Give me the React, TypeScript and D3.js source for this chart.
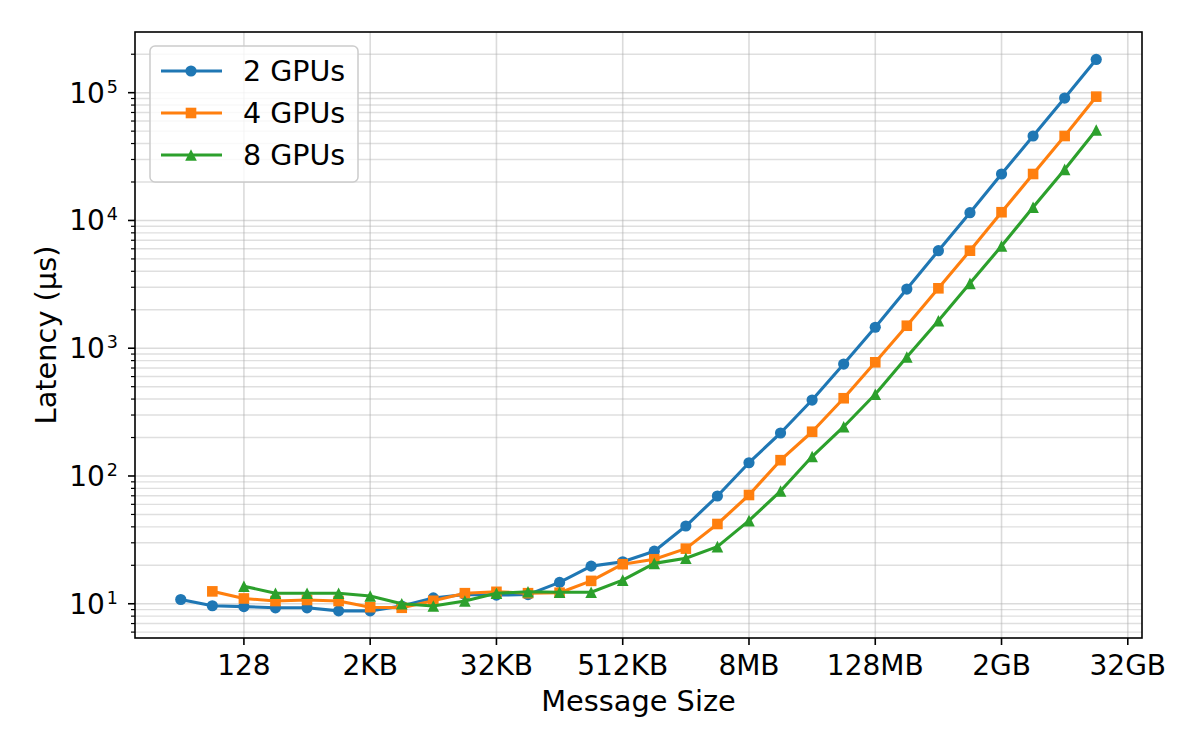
import React from "react";
import * as d3 from "d3";

const messageSizes = [
  32, 64, 128, 256, 512, 1024, 2048, 4096, 8192, 16384, 32768, 65536, 131072, 262144,
  524288, 1048576, 2097152, 4194304, 8388608, 16777216, 33554432, 67108864, 134217728,
  268435456, 536870912, 1073741824, 2147483648, 4294967296, 8589934592, 17179869184,
];

const gpus2 = [
  10.8, 9.65, 9.5, 9.3, 9.3, 8.8, 8.8, 9.6, 11.1, 11.8, 11.7, 11.8, 14.7, 19.7, 21.3,
  25.8, 40.6, 69.7, 127, 217, 393, 752, 1459, 2905, 5800, 11500, 23100, 45800, 90800, 182000,
];
const gpus4 = [
  12.5, 11.0, 10.5, 10.7, 10.5, 9.4, 9.3, 10.55, 12.1, 12.4, 12.1, 12.2, 15.1, 20.4,
  22.3, 27.0, 42.1, 71, 133, 222, 406, 776, 1500, 2944, 5800, 11600, 23100, 45800, 93100,
];
const gpus8 = [
  13.7, 12.1, 12.1, 12.1, 11.5, 10.0, 9.6, 10.5, 12.1, 12.4, 12.3, 12.3, 15.3, 20.7,
  22.7, 28.0, 44.7, 76.2, 142, 243, 436, 853, 1640, 3220, 6310, 12700, 25100, 51000,
];

const seriesNames = ["2 GPUs", "4 GPUs", "8 GPUs"];
const seriesColors = ["#1f77b4", "#ff7f0e", "#2ca02c"];
const seriesOffsets = [0, 1, 2]; // first message size index for each series

const xTickValues = [128, 2048, 32768, 524288, 8388608, 134217728, 2147483648, 34359738368];
const xTickLabels = ["128", "2KB", "32KB", "512KB", "8MB", "128MB", "2GB", "32GB"];
const yTickExponents = [1, 2, 3, 4, 5];

const W = 1200;
const H = 750;
const M = { left: 135, right: 58, top: 32, bottom: 112 };
const FONT = "DejaVu Sans, sans-serif";

function Marker({ kind, x, y, color }: { kind: number; x: number; y: number; color: string }) {
  if (kind === 0) return <circle cx={x} cy={y} r={5.6} fill={color} />;
  if (kind === 1) return <rect x={x - 5.3} y={y - 5.3} width={10.6} height={10.6} fill={color} />;
  const s = 5.8;
  return <path d={`M${x},${y - s}L${x + s},${y + s}L${x - s},${y + s}Z`} fill={color} />;
}

export default function App() {
  const x = d3
    .scaleLog()
    .base(2)
    .domain([Math.pow(2, 3.55), Math.pow(2, 35.45)])
    .range([M.left, W - M.right]);
  const y = d3
    .scaleLog()
    .domain([Math.pow(10, 0.732), Math.pow(10, 5.475)])
    .range([H - M.bottom, M.top]);

  const series = [gpus2, gpus4, gpus8];
  const line = d3
    .line<[number, number]>()
    .x((d) => x(d[0]))
    .y((d) => y(d[1]));

  const minorY: number[] = [];
  for (let e = 0; e <= 5; e++) {
    for (let m = 2; m <= 9; m++) {
      const v = m * Math.pow(10, e);
      const py = y(v);
      if (py >= M.top && py <= H - M.bottom) minorY.push(v);
    }
  }

  const x0 = M.left;
  const x1 = W - M.right;
  const y0 = M.top;
  const y1 = H - M.bottom;
  const gridColor = "#b0b0b0";

  return (
    <div style={{ position: "absolute", left: 0, top: 0 }}>
      <svg width={W} height={H} style={{ display: "block", background: "#fff" }} fontFamily={FONT}>
        <rect x={0} y={0} width={W} height={H} fill="#fff" />
        {/* grid */}
        {minorY.map((v, i) => (
          <line key={"gm" + i} x1={x0} x2={x1} y1={y(v)} y2={y(v)} stroke={gridColor} strokeOpacity={0.4} strokeWidth={1.4} />
        ))}
        {yTickExponents.map((e) => (
          <line key={"gy" + e} x1={x0} x2={x1} y1={y(Math.pow(10, e))} y2={y(Math.pow(10, e))} stroke={gridColor} strokeOpacity={0.45} strokeWidth={1.6} />
        ))}
        {xTickValues.map((v, i) => (
          <line key={"gx" + i} x1={x(v)} x2={x(v)} y1={y0} y2={y1} stroke={gridColor} strokeOpacity={0.45} strokeWidth={1.6} />
        ))}

        {/* series */}
        {series.map((vals, si) => {
          const pts: [number, number][] = vals.map((v, i) => [messageSizes[i + seriesOffsets[si]], v]);
          return (
            <g key={"s" + si}>
              <path d={line(pts) || ""} fill="none" stroke={seriesColors[si]} strokeWidth={3.1} strokeLinejoin="round" strokeLinecap="square" />
              {pts.map((p, i) => (
                <Marker key={i} kind={si} x={x(p[0])} y={y(p[1])} color={seriesColors[si]} />
              ))}
            </g>
          );
        })}

        {/* spines */}
        <rect x={x0} y={y0} width={x1 - x0} height={y1 - y0} fill="none" stroke="#000" strokeWidth={1.6} />

        {/* x ticks */}
        {xTickValues.map((v, i) => (
          <g key={"xt" + i}>
            <line x1={x(v)} x2={x(v)} y1={y1} y2={y1 + 7} stroke="#000" strokeWidth={1.6} />
            <text x={x(v)} y={y1 + 37} textAnchor="middle" fontSize={28} fill="#000">
              {xTickLabels[i]}
            </text>
          </g>
        ))}

        {/* y ticks */}
        {minorY.map((v, i) => (
          <line key={"ym" + i} x1={x0 - 4} x2={x0} y1={y(v)} y2={y(v)} stroke="#000" strokeWidth={1.2} />
        ))}
        {yTickExponents.map((e) => {
          const py = y(Math.pow(10, e));
          return (
            <g key={"yt" + e}>
              <line x1={x0 - 7} x2={x0} y1={py} y2={py} stroke="#000" strokeWidth={1.6} />
              <text x={x0 - 17} y={py + 10} textAnchor="end" fontSize={28} fill="#000">
                10
                <tspan dx={2} dy={-10} fontSize={17.5}>
                  {String(e)}
                </tspan>
              </text>
            </g>
          );
        })}

        {/* axis labels */}
        <text x={(x0 + x1) / 2} y={711} textAnchor="middle" fontSize={28.8} fill="#000">
          Message Size
        </text>
        <text transform={`translate(56, ${(y0 + y1) / 2}) rotate(-90)`} textAnchor="middle" fontSize={28.8} fill="#000">
          Latency (μs)
        </text>

        {/* legend */}
        <g>
          <rect x={150} y={46} width={208} height={136} rx={5} fill="#fff" fillOpacity={0.8} stroke="#cccccc" strokeWidth={1.5} />
          {seriesNames.map((name, i) => {
            const ly = 71 + i * 42;
            return (
              <g key={"lg" + i}>
                <line x1={161} x2={222} y1={ly} y2={ly} stroke={seriesColors[i]} strokeWidth={3.1} />
                <Marker kind={i} x={191} y={ly} color={seriesColors[i]} />
                <text x={243} y={ly + 10} fontSize={28.5} fill="#000">
                  {name}
                </text>
              </g>
            );
          })}
        </g>
      </svg>
    </div>
  );
}
